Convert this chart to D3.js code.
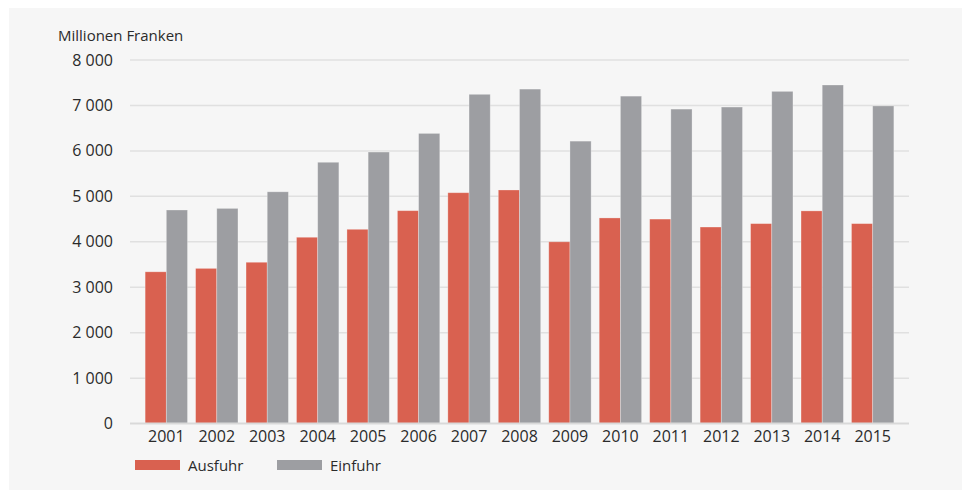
<!DOCTYPE html>
<html>
<head>
<meta charset="utf-8">
<script src="https://cdn.jsdelivr.net/npm/d3@7"></script>
<style>
  html, body { margin: 0; padding: 0; background: #ffffff; }
  svg { display: block; }
  text { font-family: "Open Sans", "DejaVu Sans", sans-serif; fill: #2b2b2b; }
</style>
</head>
<body>
<svg id="chart" width="962" height="490"></svg>
<script>
// Aussenhandel in Millionen Franken
const years = ["2001","2002","2003","2004","2005","2006","2007","2008","2009","2010","2011","2012","2013","2014","2015"];
const ausfuhr = [3340, 3415, 3550, 4100, 4275, 4685, 5080, 5140, 4000, 4525, 4500, 4325, 4400, 4680, 4400];
const einfuhr = [4700, 4735, 5100, 5750, 5975, 6385, 7245, 7360, 6215, 7205, 6920, 6965, 7310, 7450, 6990];
const yTicks = [0, 1000, 2000, 3000, 4000, 5000, 6000, 7000, 8000];
const seriesNames = ["Ausfuhr", "Einfuhr"];
const seriesColors = ["#d96150", "#9d9ea2"];

const svg = d3.select("#chart");

// panel background
svg.append("rect")
  .attr("x", 9).attr("y", 8).attr("width", 953).attr("height", 482)
  .attr("fill", "#f6f6f6");

const x = d3.scaleBand().domain(years).range([130, 909]).paddingInner(0.16).paddingOuter(0.3);
const xs = d3.scaleBand().domain(seriesNames).range([0, x.bandwidth()]);
const y = d3.scaleLinear().domain([0, 8000]).range([423.6, 60]);

const thousands = d => d3.format(",")(d).replace(/,/g, " ");

// gridlines
svg.append("g").selectAll("line").data(yTicks.filter(t => t > 0)).join("line")
  .attr("x1", 130).attr("x2", 909)
  .attr("y1", d => y(d)).attr("y2", d => y(d))
  .attr("stroke", "#e0e0e0").attr("stroke-width", 1.5);

// y tick labels
svg.append("g").selectAll("text").data(yTicks).join("text")
  .attr("x", 113).attr("y", d => y(d) + 5.5)
  .attr("text-anchor", "end").attr("font-size", 16)
  .text(d => thousands(d));

// unit label
svg.append("text").attr("x", 58).attr("y", 41).attr("font-size", 15).text("Millionen Franken");

// bars
const data = years.map((yr, i) => ({ year: yr, values: [ausfuhr[i], einfuhr[i]] }));
const groups = svg.append("g").selectAll("g").data(data).join("g")
  .attr("transform", d => `translate(${x(d.year)},0)`);
groups.selectAll("rect").data(d => d.values.map((v, k) => ({ name: seriesNames[k], v, k }))).join("rect")
  .attr("x", d => xs(d.name))
  .attr("width", xs.bandwidth())
  .attr("y", d => y(d.v))
  .attr("height", d => y(0) - y(d.v))
  .attr("fill", d => seriesColors[d.k])
  .attr("stroke", "rgba(255,255,255,0.35)").attr("stroke-width", 0.8);

// baseline
svg.append("line")
  .attr("x1", 130).attr("x2", 909).attr("y1", y(0)).attr("y2", y(0))
  .attr("stroke", "#d9d9d9").attr("stroke-width", 2);

// x labels
svg.append("g").selectAll("text").data(years).join("text")
  .attr("x", d => x(d) + x.bandwidth() / 2).attr("y", 442)
  .attr("text-anchor", "middle").attr("font-size", 16)
  .text(d => d);

// legend
const legendX = [135, 277];
const legend = svg.append("g").selectAll("g").data(seriesNames).join("g")
  .attr("transform", (d, i) => `translate(${legendX[i]},460)`);
legend.append("rect").attr("width", 45).attr("height", 10)
  .attr("fill", (d, i) => seriesColors[i]);
legend.append("text").attr("x", 53).attr("y", 11).attr("font-size", 15).text(d => d);
</script>
</body>
</html>
